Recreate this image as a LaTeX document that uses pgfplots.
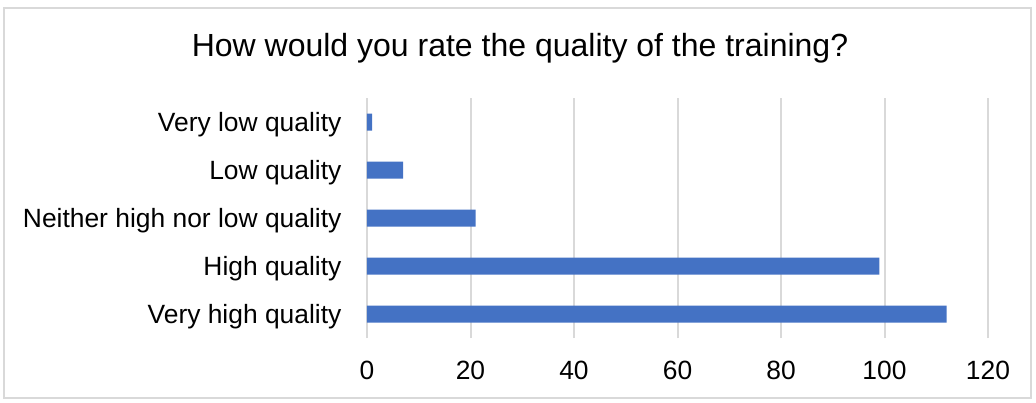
\documentclass[border=0pt]{standalone}
\usepackage{fontspec}
\setmainfont{Liberation Sans}
\usepackage{pgfplots}
\pgfplotsset{compat=1.18}
\definecolor{barblue}{HTML}{4472C4}
\definecolor{gridgray}{HTML}{D9D9D9}
\begin{document}
\begin{tikzpicture}
% picture frame (1px = 0.5pt, origin at the plot's lower left)
\useasboundingbox (-183.5pt,-32pt) rectangle (334.5pt,169pt);
\draw[gridgray, line width=1pt] (-181.5pt,-30pt) rectangle (332pt,165pt);
\begin{axis}[
    at={(0,0)}, anchor=south west,
    scale only axis,
    width=310.5pt, height=120pt,
    xbar,
    bar width=8.5pt,
    xmin=0, xmax=120,
    ymin=-0.5, ymax=4.5,
    xtick={0,20,...,120},
    ytick={0,1,2,3,4},
    yticklabels={Very high quality, High quality, Neither high nor low quality, Low quality, Very low quality},
    xmajorgrids,
    grid style={gridgray, line width=1pt},
    axis line style={draw=none},
    tick style={draw=none},
    tick label style={font=\fontsize{13.2}{15}\selectfont, text=black},
    x tick label style={anchor=center, yshift=-16pt},
    y tick label style={anchor=east, xshift=-5pt, yshift=-1.2pt},
    /pgf/number format/assume math mode=true,
]
\addplot[fill=barblue, draw=none] coordinates {
    (112,0) (99,1) (21,2) (7,3) (1,4)
};
\end{axis}
\node[font=\fontsize{16}{19}\selectfont, text=black] at (76.5pt,145pt) {How would you rate the quality of the training?};
\end{tikzpicture}
\end{document}
